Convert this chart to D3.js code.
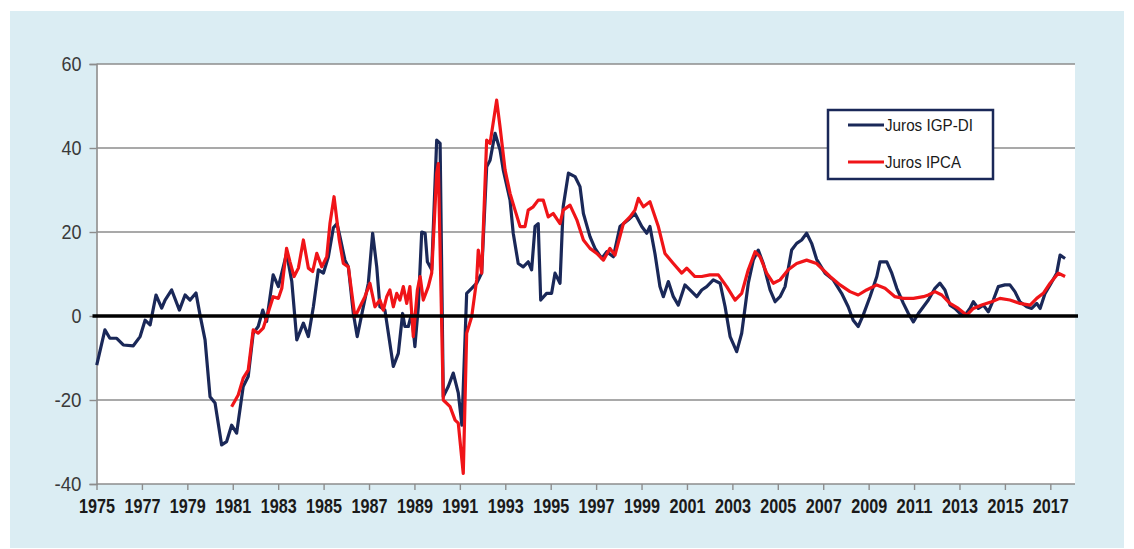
<!DOCTYPE html>
<html>
<head>
<meta charset="utf-8">
<script src="https://cdn.jsdelivr.net/npm/d3@7"></script>
<style>
  body { margin: 0; background: #ffffff; }
  svg { display: block; }
  .tickLabelY { font-family: "Liberation Sans", Arial, sans-serif; font-size: 20px; fill: #3a3a3a; }
  .tickLabelX { font-family: "Liberation Sans", Arial, sans-serif; font-size: 21px; font-weight: bold; fill: #1a1a1a; }
  .legendText { font-family: "Liberation Sans", Arial, sans-serif; font-size: 17px; fill: #1a1a1a; }
</style>
</head>
<body>
<div id="chart"></div>
<script>

///////////  DATA  ///////////

// Juros IGP-DI (blue) - decimal year / value
var igpYears = [
  1975.01, 1975.37, 1975.59, 1975.89, 1976.18, 1976.62, 1976.92, 1977.14, 1977.36, 1977.62,
  1977.87, 1978.02, 1978.31, 1978.65, 1978.90, 1979.12, 1979.38, 1979.56, 1979.78, 1980.00,
  1980.22, 1980.51, 1980.73, 1980.95, 1981.17, 1981.46, 1981.68, 1981.90, 1982.12, 1982.32,
  1982.49, 1982.78, 1983.01, 1983.37, 1983.60, 1983.82, 1984.11, 1984.33, 1984.55, 1984.77,
  1984.99, 1985.21, 1985.43, 1985.59, 1985.72, 1985.94, 1986.09, 1986.31, 1986.48, 1986.75,
  1986.97, 1987.16, 1987.34, 1987.48, 1987.70, 1988.07, 1988.29, 1988.48, 1988.58, 1988.73,
  1988.88, 1989.02, 1989.17, 1989.32, 1989.47, 1989.57, 1989.76, 1989.98, 1990.13, 1990.27,
  1990.49, 1990.71, 1990.93, 1991.09, 1991.30, 1991.52, 1991.74, 1991.96, 1992.18, 1992.33,
  1992.55, 1992.77, 1992.91, 1993.21, 1993.35, 1993.57, 1993.79, 1994.01, 1994.16, 1994.31,
  1994.45, 1994.56, 1994.82, 1995.04, 1995.19, 1995.41, 1995.55, 1995.78, 1996.07, 1996.29,
  1996.44, 1996.73, 1996.95, 1997.25, 1997.47, 1997.76, 1998.05, 1998.42, 1998.71, 1999.01,
  1999.23, 1999.37, 1999.59, 1999.81, 1999.96, 2000.18, 2000.40, 2000.62, 2000.91, 2001.21,
  2001.43, 2001.65, 2001.87, 2002.16, 2002.46, 2002.68, 2002.90, 2003.19, 2003.41, 2003.70,
  2003.92, 2004.14, 2004.36, 2004.66, 2004.88, 2005.10, 2005.32, 2005.61, 2005.83, 2006.05,
  2006.27, 2006.49, 2006.71, 2007.08, 2007.44, 2007.81, 2008.10, 2008.32, 2008.54, 2008.76,
  2009.06, 2009.36, 2009.50, 2009.80, 2010.02, 2010.24, 2010.53, 2010.75, 2010.97, 2011.19,
  2011.41, 2011.63, 2011.92, 2012.14, 2012.36, 2012.58, 2012.80, 2013.02, 2013.24, 2013.46,
  2013.61, 2013.83, 2014.05, 2014.27, 2014.49, 2014.71, 2015.00, 2015.22, 2015.44, 2015.66,
  2015.96, 2016.18, 2016.40, 2016.55, 2016.77, 2016.99, 2017.28, 2017.43, 2017.65
];
var igpValues = [
  -11.7, -3.3, -5.3, -5.3, -6.9, -7.1, -4.9, -1.0, -2.1, 5.0,
  1.9, 3.8, 6.2, 1.4, 5.0, 3.8, 5.5, 0.2, -5.7, -19.2,
  -20.7, -30.7, -29.9, -26.0, -27.9, -16.8, -14.4, -4.1, -2.5, 1.4,
  -1.3, 9.8, 7.0, 14.9, 8.2, -5.7, -1.7, -4.9, 2.2, 11.0,
  10.2, 14.1, 21.0, 22.0, 18.9, 13.3, 11.7, 0.6, -4.9, 2.2,
  7.8, 19.7, 11.7, 2.2, 1.4, -12.0, -8.9, 0.6, -2.5, -2.5,
  0.6, -7.3, 2.2, 20.0, 19.7, 12.9, 11.0, 41.9, 41.1, -19.2,
  -16.8, -13.6, -18.3, -26.0, 5.4, 6.6, 7.8, 10.2, 35.5, 37.1,
  43.5, 39.5, 34.8, 27.6, 19.7, 12.5, 11.7, 12.9, 11.0, 21.3,
  22.0, 3.8, 5.4, 5.4, 10.2, 7.8, 26.0, 34.0, 33.2, 30.8,
  24.4, 18.9, 16.1, 13.7, 15.3, 14.1, 21.3, 22.9, 24.4, 21.3,
  19.7, 21.3, 14.9, 7.0, 4.6, 8.2, 4.6, 2.6, 7.4, 5.8,
  4.6, 6.2, 7.0, 8.6, 7.8, 2.2, -4.9, -8.5, -4.1, 7.8,
  13.3, 15.7, 12.5, 6.2, 3.4, 4.6, 7.0, 15.7, 17.3, 18.1,
  19.7, 17.3, 13.5, 10.2, 8.6, 5.4, 2.2, -1.0, -2.5, 0.2,
  4.6, 9.4, 12.9, 12.9, 10.2, 6.6, 3.0, 0.6, -1.4, 0.6,
  2.2, 3.8, 6.6, 7.8, 6.2, 2.6, 1.8, 0.6, 0.2, 1.8,
  3.4, 1.8, 2.6, 1.0, 3.8, 7.0, 7.4, 7.4, 5.8, 3.4,
  2.2, 1.8, 3.0, 1.8, 5.4, 7.4, 10.2, 14.5, 13.7
];

// Juros IPCA (red) - decimal year / value
var ipcaYears = [
  1980.95, 1981.24, 1981.46, 1981.68, 1981.90, 1982.12, 1982.34, 1982.57, 1982.78, 1983.01,
  1983.16, 1983.37, 1983.52, 1983.70, 1983.89, 1984.11, 1984.33, 1984.52, 1984.70, 1984.92,
  1985.14, 1985.28, 1985.46, 1985.69, 1985.87, 1986.09, 1986.38, 1986.60, 1986.82, 1987.04,
  1987.26, 1987.48, 1987.63, 1987.78, 1987.92, 1988.07, 1988.22, 1988.36, 1988.51, 1988.66,
  1988.80, 1988.95, 1989.13, 1989.25, 1989.39, 1989.61, 1989.76, 1989.98, 1990.05, 1990.27,
  1990.57, 1990.79, 1990.93, 1991.15, 1991.30, 1991.52, 1991.74, 1991.81, 1991.96, 1992.18,
  1992.33, 1992.62, 1992.77, 1992.99, 1993.21, 1993.43, 1993.65, 1993.87, 1994.01, 1994.23,
  1994.45, 1994.67, 1994.89, 1995.11, 1995.41, 1995.55, 1995.85, 1996.15, 1996.44, 1996.73,
  1997.03, 1997.32, 1997.61, 1997.83, 1998.20, 1998.49, 1998.71, 1998.86, 1999.08, 1999.37,
  1999.74, 2000.03, 2000.40, 2000.77, 2000.99, 2001.35, 2001.65, 2002.01, 2002.38, 2002.75,
  2003.12, 2003.41, 2003.70, 2004.00, 2004.22, 2004.51, 2004.80, 2005.10, 2005.46, 2005.83,
  2006.27, 2006.71, 2006.86, 2007.30, 2007.74, 2008.18, 2008.54, 2008.91, 2009.36, 2009.72,
  2010.16, 2010.53, 2010.97, 2011.41, 2011.63, 2011.92, 2012.22, 2012.58, 2012.95, 2013.32,
  2013.61, 2013.98, 2014.42, 2014.78, 2015.22, 2015.66, 2016.11, 2016.40, 2016.69, 2016.99,
  2017.35, 2017.65
];
var ipcaValues = [
  -21.6, -18.8, -14.8, -12.9, -3.3, -4.1, -2.9, 1.0, 4.6, 4.2,
  6.6, 16.1, 12.9, 9.4, 11.4, 18.1, 11.4, 10.6, 14.9, 11.7,
  14.1, 22.0, 28.4, 18.1, 12.5, 11.7, -0.2, 2.2, 4.6, 7.8,
  2.2, 3.8, 1.4, 4.6, 6.2, 2.2, 5.4, 3.8, 7.0, 3.0,
  7.0, -4.9, 6.2, 9.4, 3.8, 7.0, 10.2, 34.0, 36.3, -20.0,
  -21.6, -24.8, -25.5, -37.5, -4.1, -0.2, 8.6, 15.7, 10.2, 41.9,
  41.1, 51.4, 45.0, 34.8, 29.2, 25.2, 21.3, 21.3, 25.2, 26.0,
  27.6, 27.6, 23.6, 24.4, 22.0, 25.2, 26.4, 22.9, 18.1, 16.1,
  14.9, 13.3, 16.1, 14.5, 22.0, 23.6, 25.2, 28.0, 26.0, 27.2,
  21.3, 14.9, 12.5, 10.2, 11.4, 9.4, 9.4, 9.8, 9.8, 7.0,
  3.8, 5.4, 11.0, 15.3, 14.1, 10.2, 7.8, 8.6, 11.0, 12.5,
  13.3, 12.5, 11.7, 9.4, 7.4, 5.8, 5.0, 6.2, 7.4, 6.6,
  4.6, 4.2, 4.2, 4.6, 5.0, 5.8, 5.0, 3.0, 1.8, 0.2,
  1.8, 2.6, 3.4, 4.2, 3.8, 3.0, 2.6, 4.2, 5.4, 7.8,
  10.2, 9.4
];

// Axis ticks
var yTicks = [-40, -20, 0, 20, 40, 60];
var xTickYears = d3.range(1975, 2018, 2);

var seriesNames = ["Juros IGP-DI", "Juros IPCA"];
var seriesColors = ["#1a2858", "#f01418"];


///////////  SVG  ///////////

var svgWidth = 1134;
var svgHeight = 549;

var plot = { left: 96.5, right: 1075, top: 64, bottom: 484 };

var SVG = d3.select("#chart")
    .append("svg")
    .attr("width", svgWidth)
    .attr("height", svgHeight);

// light blue frame behind the chart
SVG.append("rect")
    .attr("x", 10).attr("y", 11)
    .attr("width", 1114).attr("height", 537)
    .attr("fill", "#dbedf3");

// white plot area
SVG.append("rect")
    .attr("x", plot.left).attr("y", plot.top)
    .attr("width", plot.right - plot.left).attr("height", plot.bottom - plot.top)
    .attr("fill", "#ffffff");


///////////  Scales  ///////////

var xScale = d3.scaleLinear()
    .domain([1975, 2018.1])
    .range([plot.left, plot.left + 43.1 * 22.71]);

var yScale = d3.scaleLinear()
    .domain([-40, 60])
    .range([plot.bottom, plot.top]);


///////////  Grid + axes  ///////////

// horizontal gridlines (except 0 and -40)
SVG.append("g").selectAll("line")
    .data(yTicks.filter(d => d !== 0 && d !== -40))
    .enter().append("line")
    .attr("x1", plot.left).attr("x2", plot.right)
    .attr("y1", d => yScale(d)).attr("y2", d => yScale(d))
    .attr("stroke", "#8c8c8c")
    .attr("stroke-width", 1.6);

// y axis (plain hyphen for negatives, like the original)
var labelWidthY = { 1: 10, 2: 20, 3: 27 };

var yAxis = SVG.append("g")
    .attr("transform", `translate(${plot.left}, 0)`)
    .call(d3.axisLeft(yScale).tickValues(yTicks).tickSize(7).tickPadding(8).tickFormat(d => String(d)));
yAxis.select(".domain").attr("stroke", "#8c8c8c").attr("stroke-width", 1.6);
yAxis.selectAll(".tick line").attr("stroke", "#8c8c8c").attr("stroke-width", 1.4);
yAxis.selectAll(".tick text")
    .attr("class", "tickLabelY").attr("font-family", null).attr("font-size", null).attr("fill", null)
    .attr("textLength", d => labelWidthY[String(d).length])
    .attr("lengthAdjust", "spacingAndGlyphs");

// x axis at the bottom - labels squeezed to the narrow look of the original
var xAxis = SVG.append("g")
    .attr("transform", `translate(0, ${plot.bottom})`)
    .call(d3.axisBottom(xScale).tickValues(xTickYears).tickSize(6).tickPadding(8).tickFormat(d => String(d)));
xAxis.select(".domain").attr("d", `M${plot.left},0H${plot.right}`).attr("stroke", "#8c8c8c").attr("stroke-width", 1.6);
xAxis.selectAll(".tick line").attr("stroke", "#8c8c8c").attr("stroke-width", 1.4);
xAxis.selectAll(".tick text")
    .attr("class", "tickLabelX").attr("font-family", null).attr("font-size", null).attr("fill", null)
    .attr("textLength", 36)
    .attr("lengthAdjust", "spacingAndGlyphs");


///////////  Lines  ///////////

var lineGen = d3.line()
    .x(d => xScale(d[0]))
    .y(d => yScale(d[1]));

var igpData = d3.zip(igpYears, igpValues);
var ipcaData = d3.zip(ipcaYears, ipcaValues);

SVG.append("path")
    .datum(igpData)
    .attr("d", lineGen)
    .attr("fill", "none")
    .attr("stroke", seriesColors[0])
    .attr("stroke-width", 3.2)
    .attr("stroke-linejoin", "round");

SVG.append("path")
    .datum(ipcaData)
    .attr("d", lineGen)
    .attr("fill", "none")
    .attr("stroke", seriesColors[1])
    .attr("stroke-width", 3.2)
    .attr("stroke-linejoin", "round");

// thick black zero line
SVG.append("line")
    .attr("x1", plot.left - 4).attr("x2", plot.right + 3)
    .attr("y1", yScale(0)).attr("y2", yScale(0))
    .attr("stroke", "#000000")
    .attr("stroke-width", 3.5);


///////////  Legend  ///////////

var legend = SVG.append("g").attr("transform", "translate(828, 110)");

legend.append("rect")
    .attr("x", 0).attr("y", 0)
    .attr("width", 165).attr("height", 69)
    .attr("fill", "#ffffff")
    .attr("stroke", "#1a2858")
    .attr("stroke-width", 2.5);

var legendRows = legend.selectAll(".legendRow")
    .data(seriesNames)
    .enter().append("g")
    .attr("class", "legendRow")
    .attr("transform", (d, i) => `translate(0, ${15 + i * 37})`);

legendRows.append("line")
    .attr("x1", 20).attr("x2", 56)
    .attr("y1", 0).attr("y2", 0)
    .attr("stroke", (d, i) => seriesColors[i])
    .attr("stroke-width", 3);

legendRows.append("text")
    .attr("class", "legendText")
    .attr("x", 57).attr("y", 0)
    .attr("dy", "0.35em")
    .attr("textLength", (d, i) => [88, 76][i])
    .attr("lengthAdjust", "spacingAndGlyphs")
    .text(d => d);

</script>
</body>
</html>
